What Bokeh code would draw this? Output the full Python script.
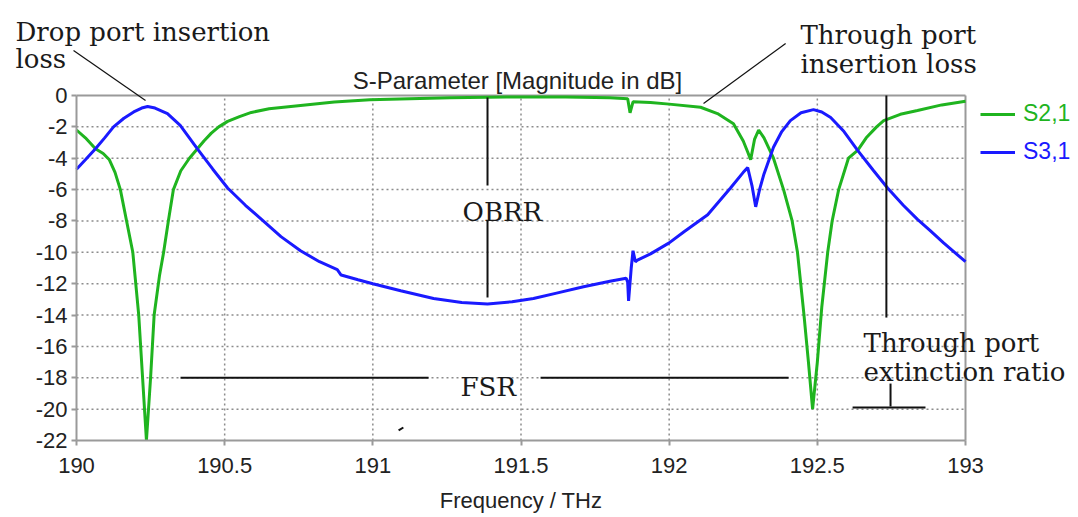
from bokeh.plotting import figure
from bokeh.models import Range1d, FixedTicker, Label, Arrow, Legend, LegendItem
from bokeh.embed import file_html
from bokeh.resources import INLINE

# ---------------- data ----------------
s21_freq = [190.000, 190.030, 190.064, 190.090, 190.111, 190.130, 190.148, 190.169, 190.190, 190.210,
            190.223, 190.236, 190.250, 190.262, 190.280, 190.294, 190.310, 190.327, 190.352, 190.381,
            190.408, 190.430, 190.455, 190.480, 190.510, 190.550, 190.590, 190.650, 190.756, 190.870,
            190.990, 191.260, 191.450, 191.650, 191.800, 191.860, 191.868, 191.878, 191.937, 192.000,
            192.106, 192.163, 192.217, 192.250, 192.265, 192.275, 192.288, 192.302, 192.320, 192.352,
            192.386, 192.415, 192.433, 192.455, 192.470, 192.484, 192.500, 192.515, 192.535, 192.550,
            192.572, 192.605, 192.636, 192.665, 192.700, 192.724, 192.780, 192.838, 192.920, 193.000]
s21_db = [-2.2, -2.7, -3.4, -3.7, -4.1, -4.9, -6.0, -8.0, -10.0, -14.0,
          -18.0, -22.0, -18.0, -14.0, -11.5, -10.0, -8.0, -6.0, -4.8, -4.0,
          -3.4, -2.9, -2.4, -2.0, -1.65, -1.35, -1.08, -0.85, -0.64, -0.42,
          -0.27, -0.15, -0.1, -0.1, -0.15, -0.2, -1.1, -0.4, -0.45, -0.55,
          -0.75, -1.15, -1.8, -2.9, -3.6, -4.1, -2.8, -2.2, -2.7, -4.0,
          -6.0, -8.0, -10.0, -14.0, -17.0, -20.0, -17.0, -13.5, -10.0, -8.0,
          -6.0, -4.0, -3.5, -2.7, -2.0, -1.6, -1.2, -0.96, -0.6, -0.36]

s31_freq = [190.000, 190.030, 190.064, 190.095, 190.125, 190.160, 190.193, 190.220, 190.240, 190.265,
            190.307, 190.350, 190.408, 190.460, 190.510, 190.570, 190.630, 190.690, 190.756, 190.820,
            190.880, 190.893, 190.950, 191.000, 191.094, 191.205, 191.300, 191.387, 191.470, 191.542,
            191.620, 191.711, 191.800, 191.855, 191.860, 191.863, 191.872, 191.878, 191.886, 191.893,
            191.937, 192.000, 192.049, 192.130, 192.207, 192.250, 192.265, 192.280, 192.292, 192.305,
            192.320, 192.352, 192.380, 192.409, 192.445, 192.487, 192.515, 192.545, 192.590, 192.636,
            192.690, 192.737, 192.790, 192.838, 192.880, 192.926, 193.000]
s31_db = [-4.7, -4.1, -3.4, -2.7, -2.0, -1.45, -1.05, -0.8, -0.7, -0.8,
          -1.15, -1.9, -3.4, -4.7, -5.9, -7.0, -8.0, -9.0, -9.9, -10.6,
          -11.1, -11.45, -11.75, -12.0, -12.45, -12.95, -13.2, -13.3, -13.15, -12.95,
          -12.6, -12.2, -11.85, -11.65, -11.9, -13.1, -11.0, -9.9, -10.6, -10.5,
          -10.1, -9.4, -8.7, -7.6, -5.9, -4.9, -4.6, -5.8, -7.1, -6.0,
          -5.0, -3.3, -2.3, -1.6, -1.1, -0.9, -1.05, -1.4, -2.3, -3.5,
          -4.8, -5.9, -7.0, -7.9, -8.6, -9.4, -10.6]

x_ticks = [190, 190.5, 191, 191.5, 192, 192.5, 193]
x_tick_labels = ["190", "190.5", "191", "191.5", "192", "192.5", "193"]
y_ticks = [0, -2, -4, -6, -8, -10, -12, -14, -16, -18, -20, -22]
y_tick_labels = ["0", "-2", "-4", "-6", "-8", "-10", "-12", "-14", "-16", "-18", "-20", "-22"]

series_names = ["S2,1", "S3,1"]
title_text = "S-Parameter [Magnitude in dB]"
x_label = "Frequency / THz"

# annotation marker lines inside the plot (x0, y0, x1, y1)
mark_x0 = [191.387, 191.387, 190.351, 191.566, 192.733, 192.747, 192.619, 191.087]
mark_y0 = [-0.13, -7.97, -18.0, -18.0, 0.0, -18.37, -19.9, -21.36]
mark_x1 = [191.387, 191.387, 191.188, 192.403, 192.733, 192.747, 192.865, 191.103]
mark_y1 = [-5.74, -12.88, -18.0, -18.0, -14.16, -19.83, -19.9, -21.17]

# leader lines (start -> end)
lead_x0 = [189.990, 192.393]
lead_y0 = [2.87, 3.32]
lead_x1 = [190.233, 192.116]
lead_y1 = [-0.32, -0.51]

# annotation texts (x, baseline y)
ann_text = ["Drop port insertion", "loss", "Through port", "insertion loss",
            "OBRR", "FSR", "Through port", "extinction ratio"]
ann_x = [189.794, 189.794, 192.443, 192.443, 191.303, 191.296, 192.656, 192.656]
ann_y = [4.08, 2.30, 3.83, 2.04, -7.46, -18.56, -15.81, -17.66]

GREEN = "#1fb41f"
BLUE = "#1a1aff"
SANS = "Liberation Sans"
SERIF = "DejaVu Serif"
TXT = "#1a1a1a"
BOX = "#9a9a9a"

# ---------------- figure ----------------
W, H = 1078, 517
LEFT, RIGHT, TOP, BOTTOM = 76, 113, 95, 77          # page margins around the chart box (px)
x0, x1 = x_ticks[0], x_ticks[-1]
y0, y1 = y_ticks[-1], y_ticks[0]
kx = (W - LEFT - RIGHT) / (x1 - x0)
ky = (H - TOP - BOTTOM) / (y1 - y0)

p = figure(width=W, height=H, output_backend="svg", toolbar_location=None,
           x_range=Range1d(x0 - LEFT / kx, x1 + RIGHT / kx),
           y_range=Range1d(y0 - BOTTOM / ky, y1 + TOP / ky),
           min_border_left=0, min_border_right=0, min_border_top=0, min_border_bottom=0)
p.background_fill_color = "white"
p.border_fill_color = "white"
p.outline_line_color = None
p.xgrid.visible = False
p.ygrid.visible = False

# grid (dotted) at interior ticks
gx = x_ticks[1:-1]
gy = y_ticks[1:-1]
p.segment(x0=gx, y0=[y0] * len(gx), x1=gx, y1=[y1] * len(gx),
          line_color="#8c8c8c", line_dash="2 3", line_width=1.5)
p.segment(x0=[x0] * len(gy), y0=gy, x1=[x1] * len(gy), y1=gy,
          line_color="#8c8c8c", line_dash="2 3", line_width=1.5)
# top / right edges of the chart box
p.segment(x0=[x0, x1], y0=[y1, y0], x1=[x1, x1], y1=[y1, y1], line_color=BOX, line_width=2)

# axes fixed on the chart box
p.xaxis.fixed_location = y0
p.yaxis.fixed_location = x0
p.xaxis.bounds = (x0, x1)
p.yaxis.bounds = (y0, y1)
for ax, ticks, labels in ((p.xaxis[0], x_ticks, x_tick_labels), (p.yaxis[0], y_ticks, y_tick_labels)):
    ax.ticker = FixedTicker(ticks=ticks)
    ax.major_label_overrides = {float(t): l for t, l in zip(ticks, labels)}
    ax.axis_line_color = BOX
    ax.axis_line_width = 2
    ax.major_tick_line_color = BOX
    ax.major_tick_line_width = 2
    ax.major_tick_out = 5
    ax.major_tick_in = 0
    ax.minor_tick_line_color = None
    ax.major_label_text_font = SANS
    ax.major_label_text_font_size = "22px"
    ax.major_label_text_color = "#222222"

p.xaxis.major_label_standoff = 12
p.yaxis.major_label_standoff = 4
p.xaxis.axis_label = x_label
p.xaxis.axis_label_text_font = SANS
p.xaxis.axis_label_text_font_size = "22px"
p.xaxis.axis_label_text_font_style = "normal"
p.xaxis.axis_label_text_color = "#222222"
p.xaxis.axis_label_standoff = 12

r1 = p.line(s21_freq, s21_db, line_color=GREEN, line_width=3)
r2 = p.line(s31_freq, s31_db, line_color=BLUE, line_width=3)

p.segment(x0=mark_x0, y0=mark_y0, x1=mark_x1, y1=mark_y1, line_color="#111111", line_width=2)

for i in range(len(lead_x0)):
    p.add_layout(Arrow(start=None, end=None, x_start=lead_x0[i], y_start=lead_y0[i],
                       x_end=lead_x1[i], y_end=lead_y1[i], line_color="#111111", line_width=1.2))

for t, x, y in zip(ann_text, ann_x, ann_y):
    p.add_layout(Label(x=x, y=y, text=t, text_align="left", text_baseline="alphabetic",
                       text_font=SERIF, text_font_size="26px", text_color=TXT))

p.add_layout(Label(x=(x0 + x1) / 2 - 0.012, y=0.96, text=title_text, text_align="center",
                   text_baseline="alphabetic", text_font=SANS, text_font_size="24px",
                   text_color="#222222"))

for name, rend, col, loc in ((series_names[0], r1, GREEN, (980, 390)),
                             (series_names[1], r2, BLUE, (980, 352))):
    leg = Legend(items=[LegendItem(label=name, renderers=[rend])], location=loc,
                 border_line_color=None, background_fill_alpha=0, padding=0, margin=0,
                 glyph_width=35, glyph_height=20, label_standoff=8, label_height=20,
                 label_text_font=SANS, label_text_font_size="23px", label_text_color=col)
    p.add_layout(leg)

open("out.html", "w").write(file_html(p, INLINE))
